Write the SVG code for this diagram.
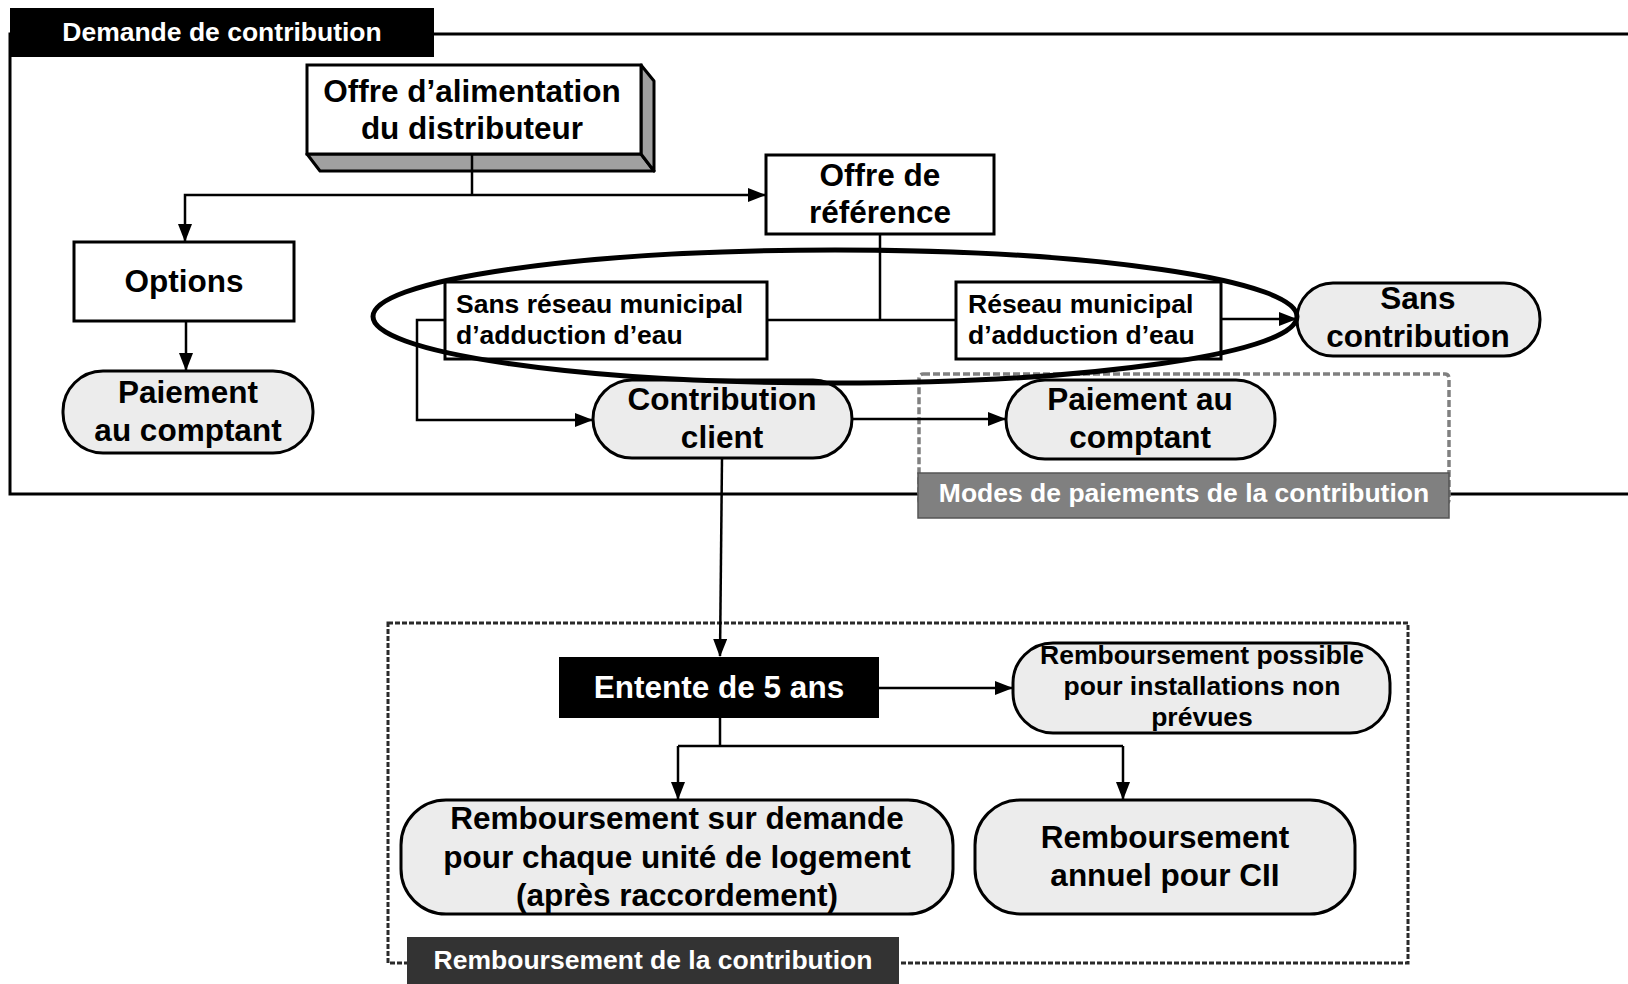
<svg xmlns="http://www.w3.org/2000/svg" width="1628" height="984" viewBox="0 0 1628 984">
<defs>
<marker id="ah" viewBox="0 0 18 14" refX="17" refY="7" markerWidth="18" markerHeight="14" markerUnits="userSpaceOnUse" orient="auto"><path d="M0,0 L18,7 L0,14 z" fill="#000"/></marker>
</defs>
<style>
text{font-family:"Liberation Sans",Arial,sans-serif;font-weight:bold;}
.big{font-size:31.5px;text-anchor:middle;fill:#000}
.sm{font-size:26.5px;fill:#000}
.smc{font-size:26.5px;fill:#000;text-anchor:middle}
.lbl{font-size:26.5px;text-anchor:middle;fill:#fff}
.box{fill:#fff;stroke:#000;stroke-width:3}
.pill{fill:#ececec;stroke:#000;stroke-width:3}
.conn{fill:none;stroke:#000;stroke-width:2.5}
</style>
<rect width="1628" height="984" fill="#fff"/>

<g id="frame-demande">
<rect x="10" y="34" width="1640" height="460" fill="none" stroke="#000" stroke-width="3"/>
<rect x="10" y="8" width="424" height="49" fill="#000"/>
<text class="lbl" x="222" y="41">Demande de contribution</text>
</g>

<g id="frame-modes">
<rect x="919" y="374" width="530" height="130" rx="4" fill="none" stroke="#808080" stroke-width="3.5" stroke-dasharray="7 3"/>
<rect x="918" y="473" width="531" height="45" fill="#808080" stroke="#555" stroke-width="1.5"/>
<text class="lbl" x="1184" y="502">Modes de paiements de la contribution</text>
</g>

<g id="frame-remboursement">
<rect x="388" y="623" width="1020" height="340" fill="none" stroke="#2a2a2a" stroke-width="3" stroke-dasharray="5 2"/>
<rect x="407" y="937" width="492" height="48" fill="#333"/>
<text class="lbl" x="653" y="969">Remboursement de la contribution</text>
</g>

<g id="n-offre-alim">
<polygon points="307,154 641,154 654,171 320,171" fill="#a0a0a0" stroke="#000" stroke-width="3" stroke-linejoin="round"/>
<polygon points="641,65 654,81 654,171 641,154" fill="#a0a0a0" stroke="#000" stroke-width="3" stroke-linejoin="round"/>
<rect class="box" x="307" y="65" width="334" height="89"/>
<text class="big" x="472" y="102">Offre d’alimentation</text>
<text class="big" x="472" y="139">du distributeur</text>
</g>

<g id="n-offre-ref">
<rect class="box" x="766" y="155" width="228" height="79"/>
<text class="big" x="880" y="186">Offre de</text>
<text class="big" x="880" y="223">référence</text>
</g>

<g id="n-options">
<rect class="box" x="74" y="242" width="220" height="79"/>
<text class="big" x="184" y="292">Options</text>
</g>

<g id="n-paiement-gauche">
<rect class="pill" x="63" y="371" width="250" height="82" rx="40"/>
<text class="big" x="188" y="403">Paiement</text>
<text class="big" x="188" y="441">au comptant</text>
</g>

<g id="n-sans-reseau">
<rect class="box" x="445" y="282" width="322" height="77"/>
<text class="sm" x="456" y="313">Sans réseau municipal</text>
<text class="sm" x="456" y="344">d’adduction d’eau</text>
</g>

<g id="n-reseau">
<rect class="box" x="956" y="282" width="265" height="77"/>
<text class="sm" x="968" y="313">Réseau municipal</text>
<text class="sm" x="968" y="344">d’adduction d’eau</text>
</g>

<g id="n-sans-contribution">
<rect class="pill" x="1297" y="283" width="243" height="73" rx="36"/>
<text class="big" x="1418" y="309">Sans</text>
<text class="big" x="1418" y="347">contribution</text>
</g>

<g id="n-contribution-client">
<rect class="pill" x="593" y="380" width="259" height="78" rx="39"/>
<text class="big" x="722" y="410">Contribution</text>
<text class="big" x="722" y="448">client</text>
</g>

<g id="n-paiement-droite">
<rect class="pill" x="1006" y="380" width="269" height="79" rx="39"/>
<text class="big" x="1140" y="410">Paiement au</text>
<text class="big" x="1140" y="448">comptant</text>
</g>

<g id="n-entente">
<rect x="559" y="657" width="320" height="61" fill="#000"/>
<text class="big" x="719" y="698" style="fill:#fff">Entente de 5 ans</text>
</g>

<g id="n-remb-possible">
<rect class="pill" x="1013" y="643" width="377" height="90" rx="40"/>
<text class="smc" x="1202" y="664">Remboursement possible</text>
<text class="smc" x="1202" y="695">pour installations non</text>
<text class="smc" x="1202" y="726">prévues</text>
</g>

<g id="n-remb-demande">
<rect class="pill" x="401" y="800" width="552" height="114" rx="45"/>
<text class="big" x="677" y="829">Remboursement sur demande</text>
<text class="big" x="677" y="868">pour chaque unité de logement</text>
<text class="big" x="677" y="906">(après raccordement)</text>
</g>

<g id="n-remb-annuel">
<rect class="pill" x="975" y="800" width="380" height="114" rx="45"/>
<text class="big" x="1165" y="848">Remboursement</text>
<text class="big" x="1165" y="886">annuel pour CII</text>
</g>

<g id="connectors">
<path class="conn" d="M472,154 V195"/>
<path class="conn" d="M472,195 H185 V241" marker-end="url(#ah)"/>
<path class="conn" d="M472,195 H765" marker-end="url(#ah)"/>
<path class="conn" d="M186,321 V370" marker-end="url(#ah)"/>
<path class="conn" d="M880,234 V320"/>
<path class="conn" d="M767,320 H956"/>
<path class="conn" d="M445,320 H417 V420 H592" marker-end="url(#ah)"/>
<path class="conn" d="M1221,319 H1296" marker-end="url(#ah)"/>
<path class="conn" d="M852,419 H1005" marker-end="url(#ah)"/>
<path class="conn" d="M722,458 L720,656" marker-end="url(#ah)"/>
<path class="conn" d="M879,688 H1012" marker-end="url(#ah)"/>
<path class="conn" d="M720,718 V746"/>
<path class="conn" d="M678,746 H1123"/>
<path class="conn" d="M678,746 V799" marker-end="url(#ah)"/>
<path class="conn" d="M1123,746 V799" marker-end="url(#ah)"/>
</g>

<g id="ellipse-highlight">
<ellipse cx="835" cy="316.5" rx="462" ry="66.5" fill="none" stroke="#000" stroke-width="5"/>
</g>
</svg>
